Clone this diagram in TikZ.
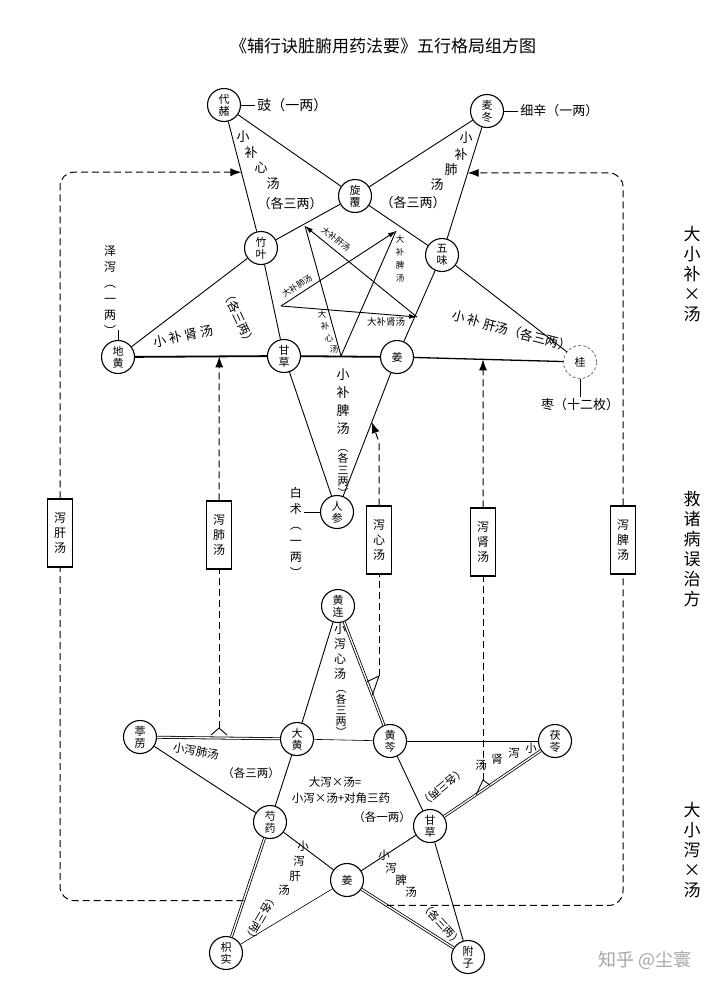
\documentclass[tikz,border=0pt]{standalone}
\usepackage{fontspec}
\setmainfont{Noto Sans CJK SC}
\usetikzlibrary{arrows.meta,calc}
\begin{document}
\begin{tikzpicture}[x=1pt,y=-1pt,
  herb/.style={circle,draw,line width=1.1pt,minimum size=33pt,inner sep=0pt,align=center,font=\fontsize{11}{12}\selectfont,fill=white},
  ln/.style={line width=0.9pt},
  thk/.style={line width=1.8pt},
  thn/.style={line width=0.6pt},
  dbl/.style={double=white,double distance=1.3pt,line width=0.8pt},
  dsh/.style={dash pattern=on 7pt off 4pt,line width=1pt},
  tip/.style={-{Latex[length=11pt,width=8pt]}},
  itip/.style={-{Latex[length=8pt,width=5pt]}},
  tbox/.style={draw,line width=1.4pt,minimum width=25pt,minimum height=68pt,inner sep=1pt,align=center,fill=white,font=\fontsize{12}{15}\selectfont},
  lbl/.style={inner sep=0pt,font=\fontsize{13}{15}\selectfont},
  lbs/.style={inner sep=0pt,font=\fontsize{11.5}{13}\selectfont},
  sl/.style={inner sep=0pt,font=\fontsize{11}{13}\selectfont},
  tiny/.style={inner sep=0pt,font=\fontsize{8.5}{10}\selectfont},
  vst/.style={inner sep=0pt,align=center,font=\fontsize{12}{16}\selectfont},
  side/.style={inner sep=0pt,align=center,font=\fontsize{17}{20}\selectfont},
]
\fill[white] (0,0) rectangle (720,990);
\useasboundingbox (0,0) rectangle (720,990);

% title
\node[inner sep=0pt,font=\fontsize{17}{19}\selectfont] (title) at (383,46) {《辅行诀脏腑用药法要》五行格局组方图};

% ---------- upper star nodes ----------
\node[herb] (dz) at (224,105) {代\\赭};
\node[herb] (md) at (487,111) {麦\\冬};
\node[herb] (xf) at (355,196) {旋\\覆};
\node[herb] (zy) at (261,248) {竹\\叶};
\node[herb] (wf) at (442,255) {五\\味};
\node[herb] (dh) at (118,357) {地\\黄};
\node[herb] (gc) at (284,356) {甘\\草};
\node[herb] (jg) at (397,357) {姜};
\node[herb,densely dashed,draw=black!55,line width=0.8pt] (gui) at (580,362) {桂};
\node[herb] (rs) at (337,512) {人\\参};

% ---------- lower star nodes ----------
\node[herb] (hl) at (338,606) {黄\\连};
\node[herb] (dhu) at (297,739) {大\\黄};
\node[herb] (hq) at (390,741) {黄\\芩};
\node[herb] (tl) at (140,737) {葶\\苈};
\node[herb] (fl) at (555,741) {茯\\苓};
\node[herb] (sy) at (270,822) {芍\\药};
\node[herb] (gc2) at (430,826) {甘\\草};
\node[herb] (jg2) at (347,880) {姜};
\node[herb] (zs) at (226,953) {枳\\实};
\node[herb] (fz) at (468,957) {附\\子};

% ---------- upper star edges ----------
\draw[ln] (dz) -- (xf);
\draw[ln] (dz) -- (zy);
\draw[ln] (md) -- (xf);
\draw[ln] (md) -- (wf);
\draw[ln] (xf) -- (zy);
\draw[ln] (xf) -- (wf);
\draw[ln] (zy) -- (dh);
\draw[ln] (zy) -- (gc);
\draw[ln] (wf) -- (gui);
\draw[ln] (wf) -- (jg);
\draw[ln] (gc) -- (rs);
\draw[ln] (jg) -- (rs);
\draw[thk] (dh) -- (gc);
\draw[thk] (gc) -- (jg);
\draw[line width=1.3pt] (jg) -- (gui);

% ---------- lower star edges ----------
\draw[ln] (hl) -- (dhu);
\draw[dbl] (hl) -- (hq);
\draw[thn] (dhu) -- (hq);
\draw[thn] (hq) -- (fl);
\draw[dbl] (tl) -- (dhu);
\draw[ln] (tl) -- (sy);
\draw[ln] (dhu) -- (sy);
\draw[ln] (hq) -- (gc2);
\draw[dbl] (fl) -- (gc2);
\draw[dbl] (sy) -- (zs);
\draw[ln] (sy) -- (jg2);
\draw[ln] (gc2) -- (jg2);
\draw[ln] (gc2) -- (fz);
\draw[thn] (jg2) -- (zs);
\draw[dbl] (jg2) -- (fz);

% ---------- inner star (大补) ----------
\coordinate (P1) at (305,226);
\coordinate (P2) at (396,231);
\coordinate (P3) at (281,306);
\coordinate (P4) at (417,317);
\coordinate (P5) at (341,356);
\draw[ln,itip] (P4) -- (P1);
\draw[ln,itip] (P3) -- (P2);
\draw[ln,itip] (P3) -- (P4);
\draw[ln] (P1) -- (P5);
\draw[ln] (P2) -- (P5);
\node[tiny,rotate=-38] at (336,239) {大补肝汤};
\node[tiny,rotate=33] at (297,286) {大补肺汤};
\node[tiny,align=center,font=\fontsize{8.5}{13}\selectfont] at (400,259) {大\\补\\脾\\汤};
\node[tiny] at (322,314) {大};
\node[tiny] at (325,326) {补};
\node[tiny] at (329,338) {心};
\node[tiny] at (334,349) {汤};
\node[tiny,font=\fontsize{9.5}{11}\selectfont] at (386,322) {大补肾汤};

% ---------- upper labels ----------
\draw[ln] (dz.east) -- ++(14,0) coordinate (dzT);
\node[lbl,anchor=west,font=\fontsize{14}{16}\selectfont] (dzL) at ($(dzT)+(2,0)$) {豉（一两）};
\draw[ln] (md.east) -- ++(14,0) coordinate (mdT);
\node[lbl,anchor=west] (mdL) at ($(mdT)+(2,0)$) {细辛（一两）};
\draw[ln] (dh.north) -- ++(0,-10) coordinate (dhT);
\node[vst,anchor=south] (dhL) at ($(dhT)+(-8,6)$) {泽\\泻\\︵\\一\\两\\︶};
\draw[ln] (gui.south) -- ++(0,18) coordinate (guiT);
\node[lbl,anchor=north] (guiL) at ($(guiT)+(0,1)$) {枣（十二枚）};
\draw[ln] (rs.west) -- ++(-16,0) coordinate (rsT);
\node[vst,anchor=east] (rsL) at ($(rsT)+(-2,20)$) {白\\术\\︵\\一\\两\\︶};

\node[lbl] at (243,137) {小};
\node[lbl] at (251,153) {补};
\node[lbl] at (261,168) {心};
\node[lbl] at (273,184) {汤};
\node[lbl] at (290,204) {（各三两）};
\node[lbl] at (466,138) {小};
\node[lbl] at (461,155) {补};
\node[lbl] at (451,170) {肺};
\node[lbl] at (437,185) {汤};
\node[lbl] at (413,203) {（各三两）};
\node[lbl,rotate=12] at (183,336) {小 补 肾 汤};
\node[sl,font=\fontsize{12}{14}\selectfont,rotate=-65] at (239,318) {（各三两）};
\node[lbl,rotate=-15] at (512,331) {小 补 肝汤（各三两）};
\node[vst,font=\fontsize{13}{18}\selectfont] at (343,402) {小\\补\\脾\\汤};
\node[vst,font=\fontsize{11}{11.5}\selectfont] at (343,473) {︵\\各\\三\\两\\︶};

% ---------- lower labels ----------
\node[vst,font=\fontsize{12}{15}\selectfont] at (340,652) {小\\泻\\心\\汤};
\node[vst,font=\fontsize{11}{11}\selectfont] at (341,713) {︵\\各\\三\\两\\︶};
\node[lbs,rotate=-10] at (196,751) {小泻肺汤};
\node[lbs] at (251,773) {（各三两）};
\node[lbs] at (335,782) {大泻×汤=};
\node[lbs] at (341,798) {小泻×汤+对角三药};
\node[lbs] at (382,817) {（各一两）};
\node[lbs] at (531,748) {小};
\node[lbs] at (514,753) {泻};
\node[lbs] at (497,759) {肾};
\node[lbs] at (481,765) {汤};
\node[sl,rotate=-140] at (443,787) {（各三两）};
\node[lbs] at (303,846) {小};
\node[lbs] at (299,861) {泻};
\node[lbs] at (295,876) {肝};
\node[lbs] at (284,890) {汤};
\node[sl,rotate=-120] at (261,918) {（各三两）};
\node[lbs] at (384,855) {小};
\node[lbs] at (391,868) {泻};
\node[lbs] at (401,880) {脾};
\node[lbs] at (411,892) {汤};
\node[sl,rotate=-48] at (442,924) {（各三两）};

% ---------- boxes ----------
\node[tbox] (bG) at (60,533) {泻\\肝\\汤};
\node[tbox] (bF) at (219,535) {泻\\肺\\汤};
\node[tbox] (bX) at (379,540) {泻\\心\\汤};
\node[tbox] (bS) at (483,542) {泻\\肾\\汤};
\node[tbox] (bP) at (623,540) {泻\\脾\\汤};

% ---------- dashed connectors ----------
% 泻肝汤: lower liver -> upper heart
\coordinate (hArr) at ($(dz)!0.47!(zy)$);
\coordinate (lvA) at ($(sy)!0.6!(zs)$);
\draw[dsh,rounded corners=14pt] (lvA) -- (lvA -| bG) -- (bG.south);
\draw[dsh,rounded corners=14pt,tip] (bG.north) -- (bG.north |- hArr) -- (hArr);
% 泻脾汤: lower spleen -> upper lung
\coordinate (pArr) at ($(md)!0.43!(wf)$);
\coordinate (rvA) at ($(jg2)!0.33!(fz)$);
\draw[dsh,rounded corners=14pt] (rvA) -- (rvA -| bP) -- (bP.south);
\draw[dsh,rounded corners=14pt,tip] (bP.north) -- (bP.north |- pArr) -- (pArr);
% 泻肺汤: lower lung -> upper kidney
\coordinate (kArr) at ($(dh)!0.61!(gc)$);
\coordinate (fBt) at (219,728);
\draw[dsh] (fBt) -- (bF.south);
\draw[dsh,tip] (bF.north) -- (kArr);
\draw[ln] (211,735) -- (fBt) -- (227,735);
% 泻心汤: lower heart -> upper spleen
\coordinate (sArr) at ($(jg)!0.42!(rs)$);
\coordinate (sBend) at (379,442);
\coordinate (xBt) at (379,676);
\coordinate (xL1) at ($(hl)!0.56!(hq)$);
\coordinate (xL2) at ($(hl)!0.66!(hq)$);
\draw[dsh] (xBt) -- (bX.south);
\draw[dsh,tip] (bX.north) -- (sBend) -- (sArr);
\draw[ln] (xL1) -- (xBt) -- (xL2);
% 泻肾汤: lower kidney -> upper liver
\coordinate (gArr) at ($(jg)!0.47!(gui)$);
\coordinate (gBt) at (483,780);
\coordinate (gL1) at ($(fl)!0.52!(gc2)$);
\coordinate (gL2) at ($(fl)!0.63!(gc2)$);
\draw[dsh] (gBt) -- (bS.south);
\draw[dsh,tip] (bS.north) -- (gArr);
\draw[ln] (gL1) -- (gBt) -- (gL2);

% ---------- side labels ----------
\node[side] at (692,274) {大\\小\\补\\×\\汤};
\node[side] at (692,549) {救\\诸\\病\\误\\治\\方};
\node[side] at (692,850) {大\\小\\泻\\×\\汤};

% watermark
\node[inner sep=0pt,text=black!35,font=\fontsize{18}{20}\selectfont] at (645,960) {知乎 @尘寰};
\end{tikzpicture}
\end{document}
